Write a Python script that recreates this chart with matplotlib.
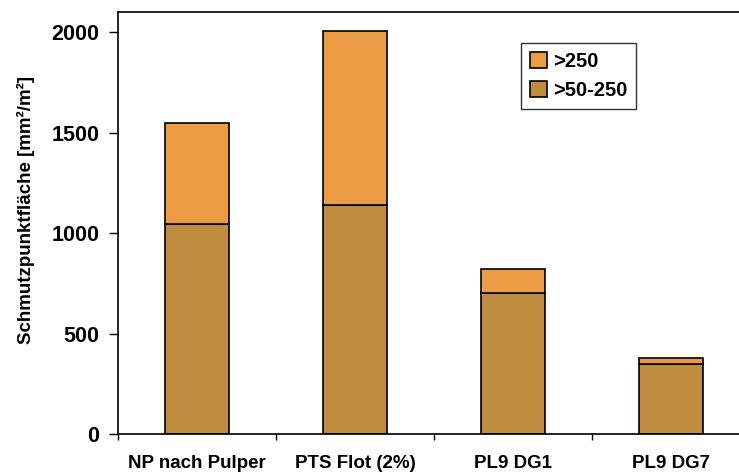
import matplotlib.pyplot as plt
import numpy as np

categories = ["NP nach Pulper", "PTS Flot (2%)", "PL9 DG1", "PL9 DG7"]
mid_50_250 = [1045, 1140, 703, 347]
over_250 = [505, 865, 120, 33]

plt.rcParams['font.family'] = ['Liberation Sans', 'DejaVu Sans']
plt.rcParams['font.weight'] = 'bold'

fig = plt.figure(figsize=(7.39, 4.72), dpi=100)
ax = fig.add_axes([118 / 739, 38 / 472, 632 / 739, 422 / 472])

x = np.arange(len(categories))
ax.bar(x, mid_50_250, width=0.4, color='#C08D40', edgecolor='black', linewidth=1.2,
       label='>50-250', zorder=2)
ax.bar(x, over_250, width=0.4, bottom=mid_50_250, color='#EB9C45', edgecolor='black',
       linewidth=1.2, label='>250', zorder=2)

ax.set_xlim(-0.5, 3.5)
ax.set_ylim(0, 2100)
ax.set_yticks([0, 500, 1000, 1500, 2000])
ax.tick_params(axis='y', direction='out', length=6.5, width=1, labelsize=15.5, pad=7)

ax.set_xticks(x)
ax.set_xticklabels(categories)
ax.tick_params(axis='x', which='major', length=0, labelsize=13.5, pad=15)
ax.set_xticks(np.arange(-0.5, 3.5, 1.0), minor=True)
ax.tick_params(axis='x', which='minor', direction='out', length=4.5, width=1)

for side in ['left', 'bottom', 'top', 'right']:
    ax.spines[side].set_linewidth(1.2)

ax.set_ylabel('Schmutzpunktfläche [mm²/m²]', fontsize=13.5, fontweight='bold')
ax.yaxis.set_label_coords(-0.132, 0.53)

handles, labels = ax.get_legend_handles_labels()
leg = ax.legend(handles[::-1], labels[::-1], loc='upper left', bbox_to_anchor=(0.637, 0.927),
                fontsize=14.5, frameon=True, fancybox=False, edgecolor='black',
                handlelength=0.85, handleheight=0.85, handletextpad=0.3,
                borderpad=0.45, labelspacing=0.5, borderaxespad=0)
leg.get_frame().set_linewidth(1.0)

fig.savefig('out.png', dpi=100)
